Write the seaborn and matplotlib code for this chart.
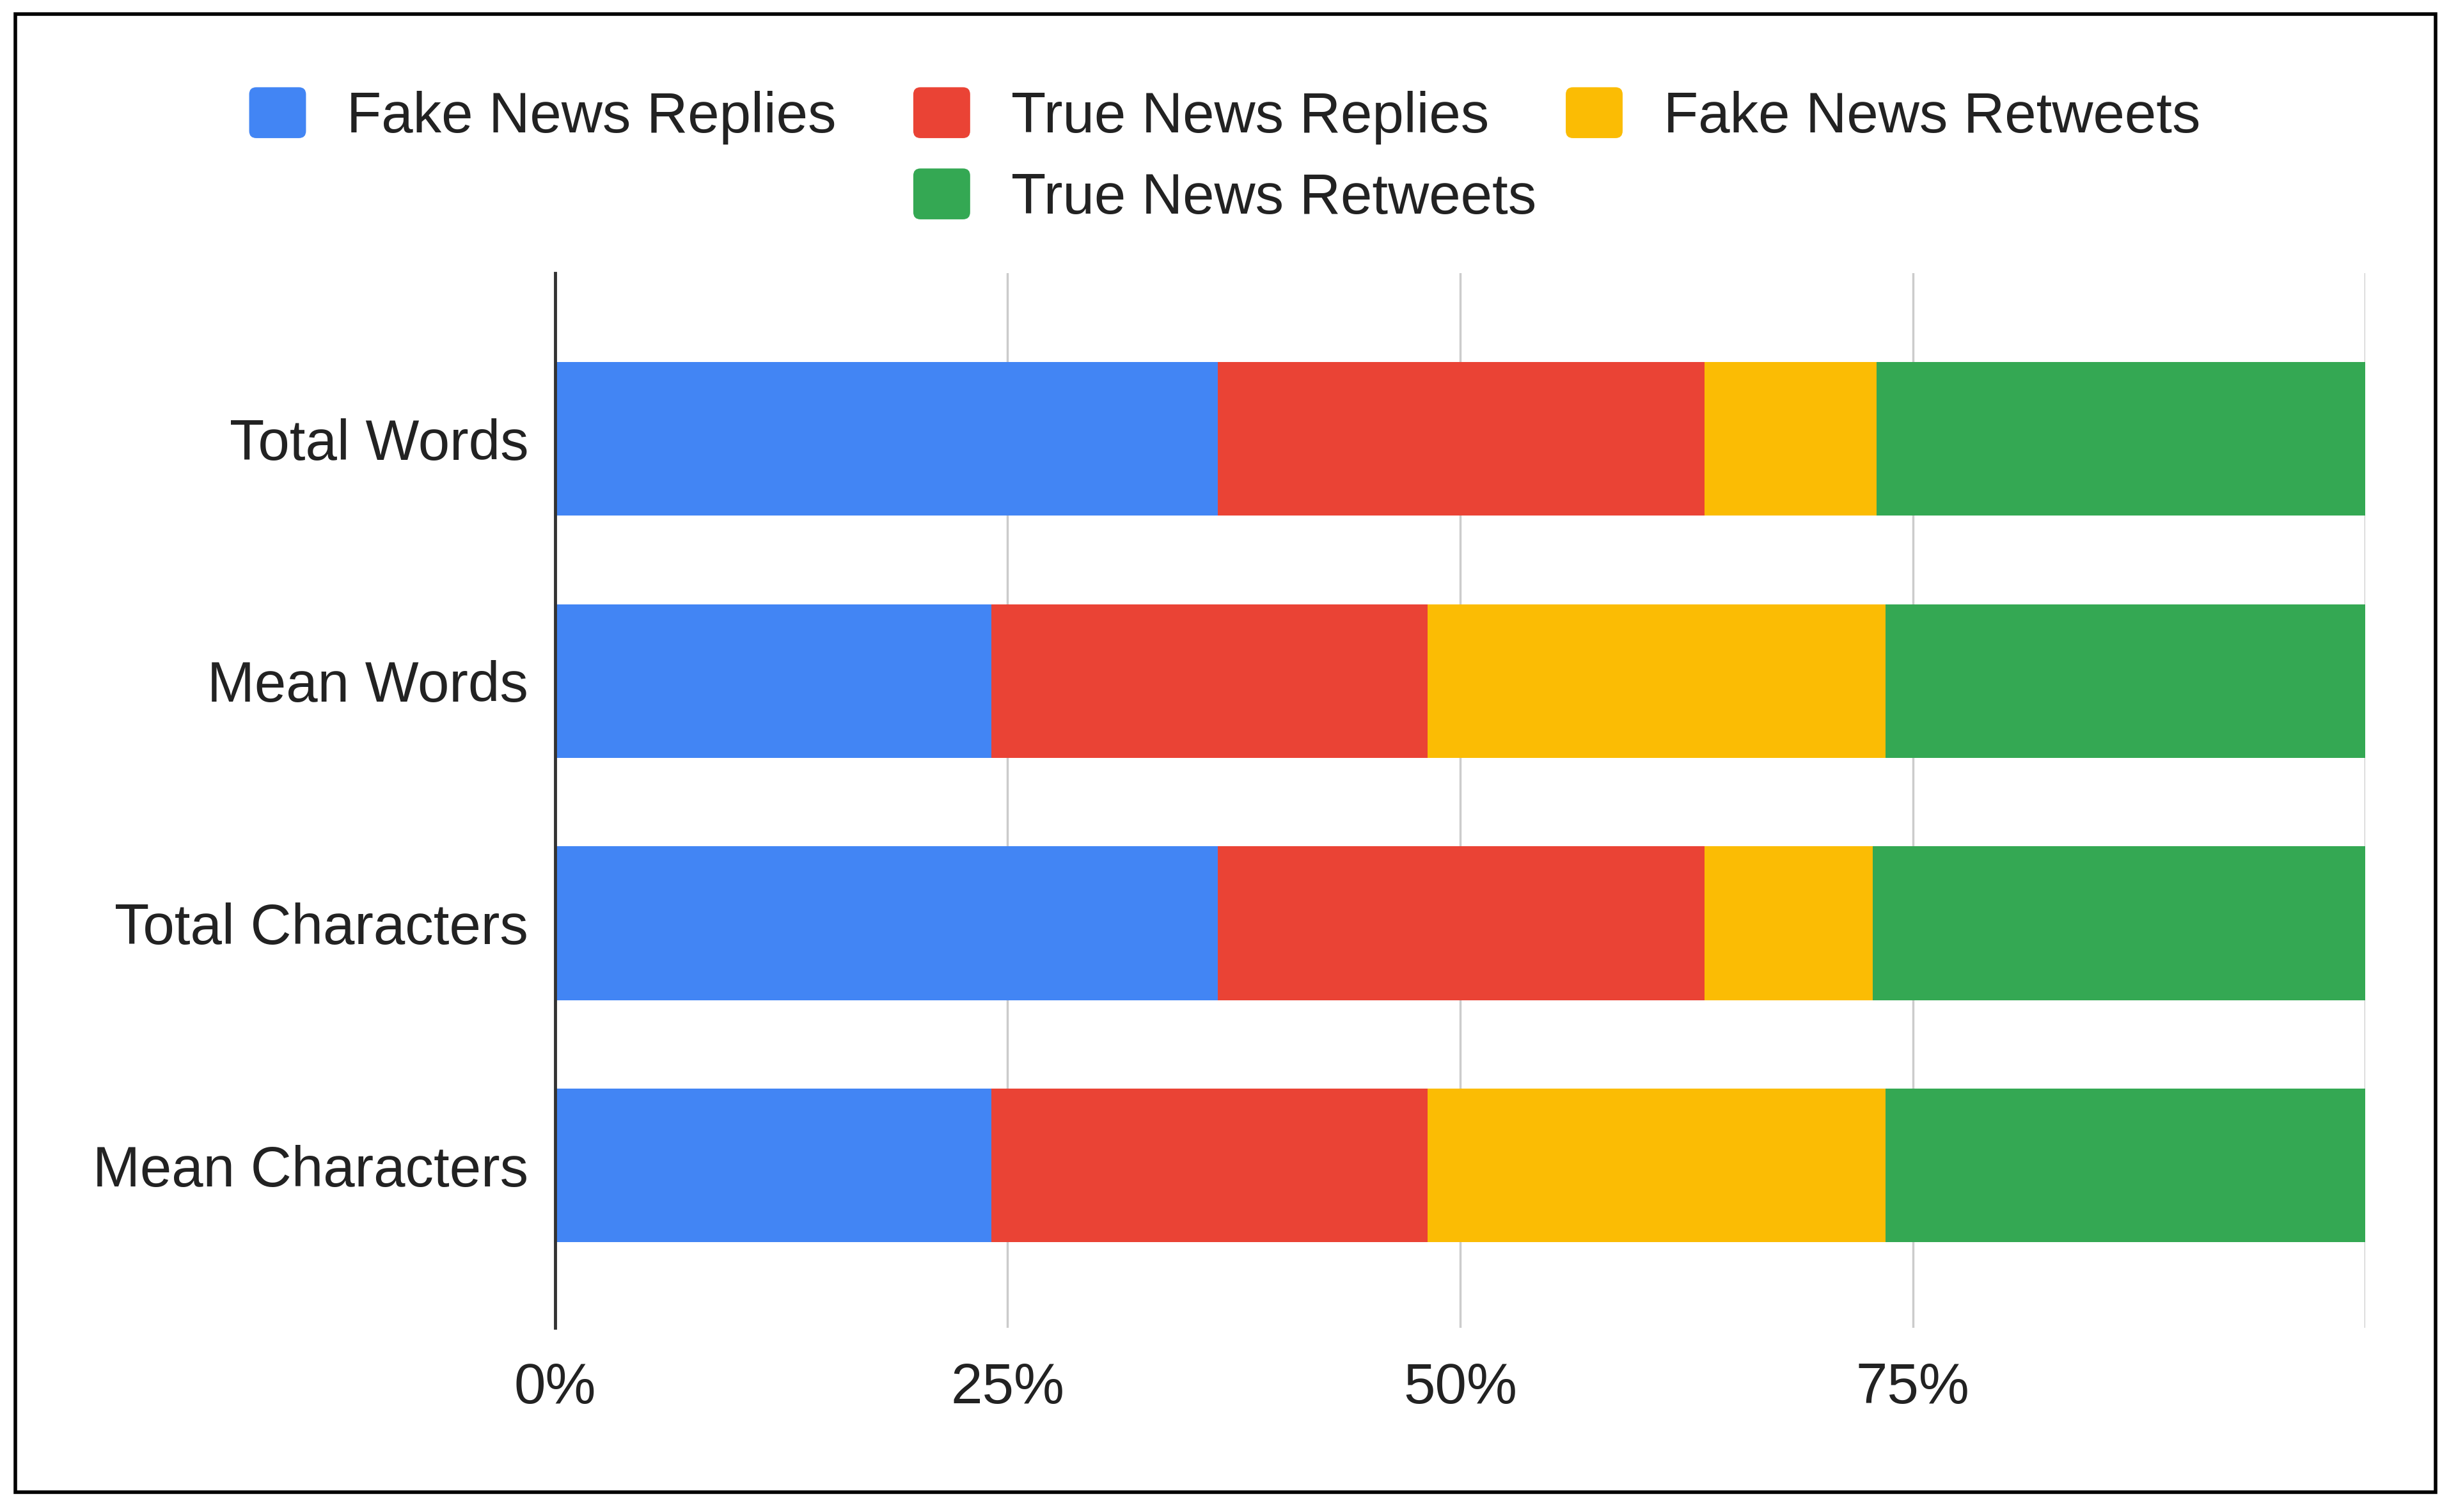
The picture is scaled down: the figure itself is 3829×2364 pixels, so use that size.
import numpy as np
import pandas as pd
import matplotlib
matplotlib.use("Agg")
import matplotlib.pyplot as plt
import seaborn as sns
from matplotlib.patches import Patch, Rectangle, FancyBboxPatch
from matplotlib.legend_handler import HandlerPatch

# ---- data (percent shares) ----
categories = ["Total Words", "Mean Words", "Total Characters", "Mean Characters"]
series_names = ["Fake News Replies", "True News Replies", "Fake News Retweets", "True News Retweets"]
fake_replies = [36.6, 24.1, 36.6, 24.1]
true_replies = [26.9, 24.1, 26.9, 24.1]
fake_retweets = [9.5, 25.3, 9.3, 25.3]
true_retweets = [27.0, 26.5, 27.2, 26.5]
x_tick_values = [0, 25, 50, 75, 100]
x_tick_labels = ["0%", "25%", "50%", "75%", ""]
colors = ["#4285F4", "#EA4335", "#FBBC04", "#34A853"]

df = pd.DataFrame(
    {
        series_names[0]: fake_replies,
        series_names[1]: true_replies,
        series_names[2]: fake_retweets,
        series_names[3]: true_retweets,
    },
    index=categories,
)
pct = df.div(df.sum(axis=1), axis=0) * 100
cum = pct.cumsum(axis=1)

sns.set_style("white")
plt.rcParams["font.family"] = ["Liberation Sans", "DejaVu Sans"]

W, H = 3830, 2364
FS = 64
fig = plt.figure(figsize=(W / 100, H / 100), dpi=100)
ax = fig.add_axes([868 / W, 1 - 2076 / H, (3698 - 868) / W, (2076 - 427) / H])

# stacked bars via cumulative overlap (largest first)
for name, color in reversed(list(zip(series_names, colors))):
    sns.barplot(
        x=cum[name].values,
        y=categories,
        orient="h",
        color=color,
        saturation=1,
        width=0.635,
        linewidth=0,
        ax=ax,
    )

ax.set_xlim(0, 100)
ax.set_ylim(3.67, -0.684)
ax.set_xlabel("")
ax.set_ylabel("")
ax.set_xticks(x_tick_values)
ax.set_xticklabels(x_tick_labels)
ax.set_axisbelow(True)
ax.xaxis.grid(True, color="#cccccc", linewidth=2.5)
ax.yaxis.grid(False)
for s in ["top", "right", "bottom"]:
    ax.spines[s].set_visible(False)
ax.spines["left"].set_color("#333333")
ax.spines["left"].set_linewidth(3.5)
ax.tick_params(axis="both", length=0, labelsize=FS, colors="#222222")
ax.tick_params(axis="y", pad=30)
ax.tick_params(axis="x", pad=38)


# legend (two centered rows) with rounded square markers
def rounded_patch(legend, orig_handle, xdescent, ydescent, width, height, fontsize):
    return FancyBboxPatch(
        (-xdescent, -ydescent), width, height,
        boxstyle="round,pad=0,rounding_size=%f" % (0.14 * height),
    )


handles = [Patch(facecolor=c, edgecolor="none") for c in colors]
leg_kw = dict(
    loc="center",
    frameon=False,
    fontsize=FS,
    handlelength=1.0,
    handleheight=1.0,
    handletextpad=0.72,
    columnspacing=1.35,
    borderpad=0,
    borderaxespad=0,
    labelcolor="#222222",
    handler_map={Patch: HandlerPatch(patch_func=rounded_patch)},
)
fig.legend(handles[:3], series_names[:3], ncol=3, bbox_to_anchor=(0.5, 1 - 181 / H), **leg_kw)
fig.legend(handles[3:], series_names[3:], ncol=1, bbox_to_anchor=(0.5, 1 - 308 / H), **leg_kw)

# outer frame
fig.add_artist(
    Rectangle(
        (24 / W, 31 / H),
        (3808 - 24) / W,
        (2333 - 22) / H,
        transform=fig.transFigure,
        fill=False,
        edgecolor="black",
        linewidth=4,
    )
)

fig.savefig("out.png", dpi=100)
